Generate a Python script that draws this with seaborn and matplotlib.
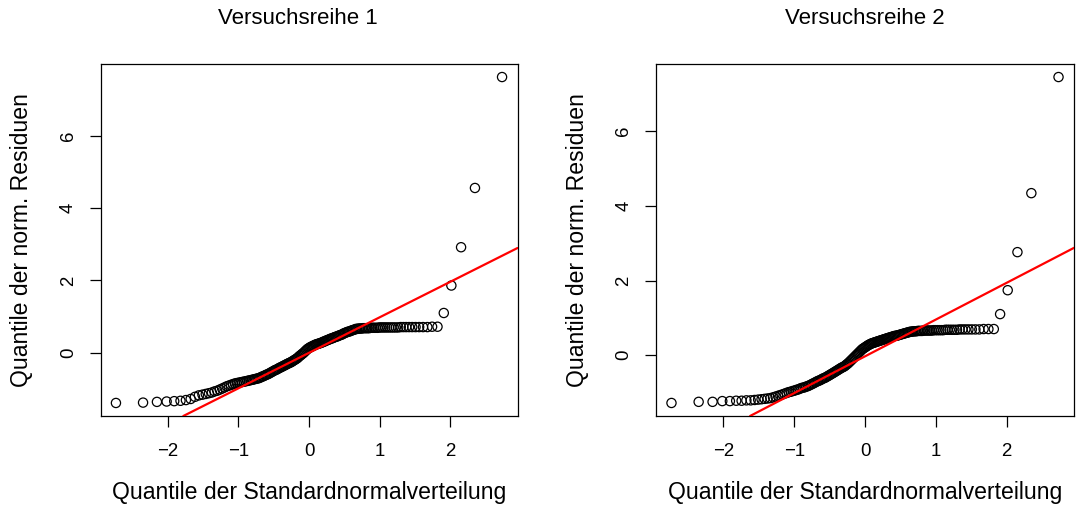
import numpy as np
import pandas as pd
import matplotlib
matplotlib.use("Agg")
import matplotlib.pyplot as plt
import seaborn as sns
from statistics import NormalDist

# ---- data: sorted normalised residuals (n = 160 each) ----
residuals_1 = [
    -1.39, -1.38, -1.36, -1.35, -1.34, -1.33, -1.31, -1.28, -1.22, -1.18,
    -1.16, -1.14, -1.12, -1.10, -1.07, -1.05, -1.02, -0.99, -0.96, -0.93,
    -0.91, -0.89, -0.87, -0.85, -0.84, -0.83, -0.82, -0.81, -0.80, -0.79,
    -0.78, -0.77, -0.76, -0.75, -0.74, -0.73, -0.72, -0.71, -0.70, -0.68,
    -0.66, -0.65, -0.63, -0.61, -0.60, -0.58, -0.56, -0.54, -0.52, -0.50,
    -0.48, -0.47, -0.45, -0.43, -0.41, -0.40, -0.38, -0.36, -0.35, -0.33,
    -0.31, -0.30, -0.28, -0.27, -0.25, -0.23, -0.21, -0.19, -0.17, -0.15,
    -0.12, -0.09, -0.07, -0.04, -0.02, 0.01, 0.04, 0.07, 0.10, 0.12,
    0.14, 0.16, 0.17, 0.19, 0.20, 0.22, 0.23, 0.24, 0.25, 0.26,
    0.27, 0.28, 0.30, 0.31, 0.32, 0.34, 0.35, 0.36, 0.38, 0.39,
    0.40, 0.41, 0.43, 0.44, 0.45, 0.46, 0.48, 0.49, 0.50, 0.52,
    0.54, 0.55, 0.57, 0.58, 0.59, 0.60, 0.62, 0.63, 0.64, 0.66,
    0.66, 0.67, 0.67, 0.67, 0.68, 0.68, 0.68, 0.68, 0.68, 0.69,
    0.69, 0.69, 0.69, 0.69, 0.70, 0.70, 0.70, 0.70, 0.70, 0.70,
    0.70, 0.70, 0.70, 0.70, 0.71, 0.71, 0.71, 0.71, 0.71, 0.71,
    0.71, 0.71, 0.71, 0.72, 0.72, 1.10, 1.86, 2.92, 4.56, 7.63,
]

residuals_2 = [
    -1.28, -1.25, -1.25, -1.23, -1.23, -1.22, -1.22, -1.21, -1.21, -1.20,
    -1.19, -1.18, -1.17, -1.16, -1.15, -1.13, -1.11, -1.09, -1.07, -1.05,
    -1.03, -1.01, -0.99, -0.98, -0.96, -0.95, -0.93, -0.92, -0.90, -0.88,
    -0.87, -0.86, -0.84, -0.83, -0.81, -0.79, -0.77, -0.75, -0.73, -0.71,
    -0.69, -0.68, -0.66, -0.64, -0.62, -0.61, -0.59, -0.57, -0.55, -0.53,
    -0.51, -0.49, -0.47, -0.45, -0.43, -0.41, -0.39, -0.37, -0.35, -0.33,
    -0.32, -0.30, -0.28, -0.25, -0.23, -0.20, -0.17, -0.14, -0.11, -0.08,
    -0.05, -0.02, 0.01, 0.04, 0.07, 0.10, 0.13, 0.16, 0.18, 0.20,
    0.22, 0.24, 0.26, 0.28, 0.29, 0.31, 0.32, 0.33, 0.34, 0.35,
    0.36, 0.37, 0.38, 0.39, 0.40, 0.41, 0.42, 0.43, 0.44, 0.45,
    0.46, 0.47, 0.48, 0.49, 0.50, 0.51, 0.52, 0.52, 0.53, 0.54,
    0.55, 0.56, 0.57, 0.58, 0.59, 0.60, 0.61, 0.62, 0.63, 0.63,
    0.64, 0.64, 0.64, 0.65, 0.65, 0.65, 0.65, 0.66, 0.66, 0.66,
    0.66, 0.66, 0.66, 0.67, 0.67, 0.67, 0.67, 0.67, 0.67, 0.68,
    0.68, 0.68, 0.68, 0.68, 0.68, 0.69, 0.69, 0.69, 0.69, 0.69,
    0.69, 0.69, 0.70, 0.70, 0.70, 1.10, 1.74, 2.76, 4.34, 7.45,
]

titles = ["Versuchsreihe 1", "Versuchsreihe 2"]
x_label = "Quantile der Standardnormalverteilung"
y_label = "Quantile der norm. Residuen"
x_ticks = [-2, -1, 0, 1, 2]
y_ticks = [0, 2, 4, 6]

sns.set_theme(style="white")
plt.rcParams["font.family"] = ["Liberation Sans", "DejaVu Sans"]


def theoretical_quantiles(n):
    # R's ppoints for n > 10: (i - 0.5) / n
    nd = NormalDist()
    return [nd.inv_cdf((i + 0.5) / n) for i in range(n)]


fig = plt.figure(figsize=(10.81, 5.19), dpi=100)
ax_pos = [
    [100.5 / 1081, (519 - 416) / 519, 417 / 1081, 352 / 519],
    [656 / 1081, (519 - 416) / 519, 418 / 1081, 352 / 519],
]
title_x = [0.474, 0.5]

for k, (res, title) in enumerate(zip([residuals_1, residuals_2], titles)):
    ax = fig.add_axes(ax_pos[k])
    y = np.sort(np.asarray(res, dtype=float))
    x = np.asarray(theoretical_quantiles(len(y)))
    df = pd.DataFrame({"theo": x, "sample": y})

    sns.scatterplot(data=df, x="theo", y="sample", ax=ax, marker="o",
                    s=44, facecolor="none", edgecolor="black", linewidth=0.9,
                    legend=False, zorder=2)

    # qqline through the 1st and 3rd quartiles (like R)
    q1, q3 = np.quantile(y, [0.25, 0.75])
    z1, z3 = NormalDist().inv_cdf(0.25), NormalDist().inv_cdf(0.75)
    slope = (q3 - q1) / (z3 - z1)
    intercept = q1 - slope * z1
    ax.axline((0, intercept), slope=slope, color="#FF0000", lw=1.6, zorder=3)

    # R-style 4% padding
    xr = x.max() - x.min()
    yr = y.max() - y.min()
    ax.set_xlim(x.min() - 0.04 * xr, x.max() + 0.04 * xr)
    ax.set_ylim(y.min() - 0.04 * yr, y.max() + 0.04 * yr)

    ax.set_xticks(x_ticks)
    ax.set_yticks(y_ticks)
    ax.set_xticklabels([f"{t}".replace("-", "\u2212") for t in x_ticks])
    ax.set_yticklabels([str(t) for t in y_ticks], rotation=90, va="center")
    ax.tick_params(axis="both", which="major", direction="out", length=8,
                   width=0.9, color="black", labelsize=13.4, pad=9,
                   bottom=True, left=True, top=False, right=False,
                   labelcolor="black")
    ax.tick_params(axis="x", pad=11.5)
    for sp in ax.spines.values():
        sp.set_visible(True)
        sp.set_color("black")
        sp.set_linewidth(0.9)

    ax.set_xlabel("")
    ax.set_ylabel("")
    ax.text(0.5, -(493 - 416) / 352, x_label, transform=ax.transAxes,
            ha="center", va="center", fontsize=16.6, color="black")
    left_px = ax_pos[k][0] * 1081
    ax.text((22 + (k * 556) - left_px) / 417, 0.5, y_label,
            transform=ax.transAxes, rotation=90, ha="center", va="center",
            fontsize=16.6, color="black")
    ax.text(title_x[k], 1 + (64 - 18) / 352, title, transform=ax.transAxes,
            ha="center", va="center", fontsize=16, color="black")
    ax.grid(False)

fig.savefig("out.png", dpi=100, facecolor="white")
